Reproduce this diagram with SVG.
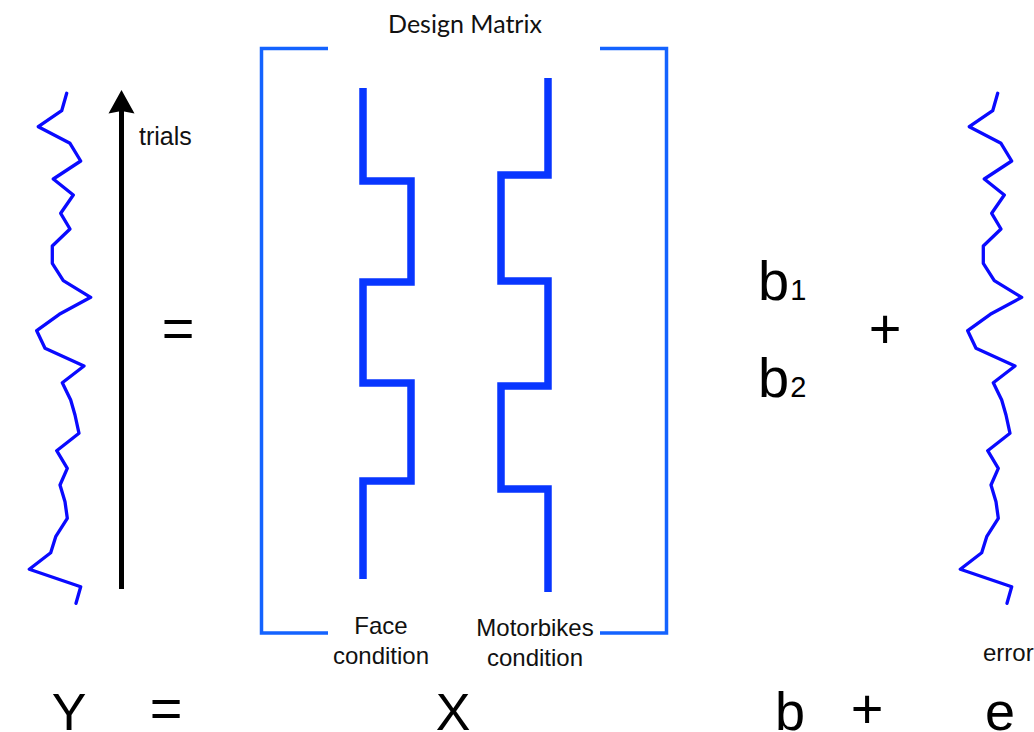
<svg xmlns="http://www.w3.org/2000/svg" xmlns:xlink="http://www.w3.org/1999/xlink" width="1034" height="732" viewBox="0 0 1034 732">
<style>
.sq{fill:none;stroke:#0a0aff;stroke-width:3.3;stroke-linejoin:round;stroke-linecap:round}
.step{fill:none;stroke:#0836ff;stroke-width:7.5;stroke-linejoin:miter;stroke-linecap:butt}
.br{fill:none;stroke:#1463ff;stroke-width:3.5;stroke-linejoin:miter}
.lbl{font-family:"Liberation Sans",Arial,sans-serif;font-size:24px;fill:#111}
.big{font-family:"Liberation Sans",Arial,sans-serif;font-size:56px;fill:#000}
.sub{font-size:29px}
.title{font-family:Lato,"Open Sans",sans-serif;font-size:25px;fill:#111}
</style>
<defs>
<path id="wave" d="M66.7,93.3 L61.7,110.7 L38.3,126.7 L70,143.3 L80.7,161 L53.3,179 L73.3,195 L60.7,213.3 L70,229 L52.3,246 L52.3,263.3 L63.3,280.7 L90.7,297.3 L59.3,314.3 L36.7,330.7 L45,348.3 L84,366 L62.3,382.7 L70.7,400 L75,415 L79,433.3 L56.7,450.7 L67.3,468.3 L60,485 L65,501.7 L67.3,518.3 L55.7,536.7 L50.7,552.7 L29.3,569.3 L80.7,586.7 L76,603.3"/>
</defs>
<rect width="1034" height="732" fill="#fff"/>
<g id="Y-signal">
<use xlink:href="#wave" href="#wave" class="sq"/>
</g>
<g id="error-signal">
<use xlink:href="#wave" href="#wave" class="sq" transform="translate(931,0)"/>
<text class="lbl" x="983" y="661">error</text>
</g>
<g id="connectors">
<line x1="121.5" y1="589" x2="121.5" y2="110" stroke="#000" stroke-width="5"/>
<polygon points="121.5,90 108.5,113.5 121.5,111 134.5,113.5" fill="#000"/>
</g>
<g id="trials-label">
<text class="lbl" x="139" y="145" style="font-size:25px">trials</text>
</g>
<g id="equals-mid">
<text class="big" x="178" y="347" text-anchor="middle">=</text>
</g>
<g id="design-matrix">
<text class="title" x="465" y="33" text-anchor="middle">Design Matrix</text>
<path class="br" d="M328,48.5 H261.5 V633 H328"/>
<path class="br" d="M600,48.5 H666.5 V633 H600"/>
</g>
<g id="face-regressor">
<path class="step" d="M363,88 V181 H411 V282 H363 V383 H411 V481 H363 V579"/>
<text class="lbl" x="381" y="634" text-anchor="middle">Face</text>
<text class="lbl" x="381" y="664" text-anchor="middle">condition</text>
</g>
<g id="motorbike-regressor">
<path class="step" d="M548,78 V175 H501 V281 H548 V386 H501 V489 H548 V592"/>
<text class="lbl" x="535" y="636" text-anchor="middle">Motorbikes</text>
<text class="lbl" x="535" y="666" text-anchor="middle">condition</text>
</g>
<g id="betas">
<text class="big" x="758" y="300">b<tspan class="sub" dx="1">1</tspan></text>
<text class="big" x="758" y="397">b<tspan class="sub" dx="1">2</tspan></text>
</g>
<g id="plus-mid">
<text class="big" x="885" y="348" text-anchor="middle">+</text>
</g>
<g id="equation">
<text class="big" x="69" y="730" text-anchor="middle" style="font-size:52px">Y</text>
<text class="big" x="166" y="727" text-anchor="middle">=</text>
<text class="big" x="453" y="730" text-anchor="middle" style="font-size:52px">X</text>
<text class="big" x="790" y="730" text-anchor="middle" style="font-size:54px">b</text>
<text class="big" x="867" y="728" text-anchor="middle">+</text>
<text class="big" x="1000" y="730" text-anchor="middle" style="font-size:54px">e</text>
</g>
</svg>
